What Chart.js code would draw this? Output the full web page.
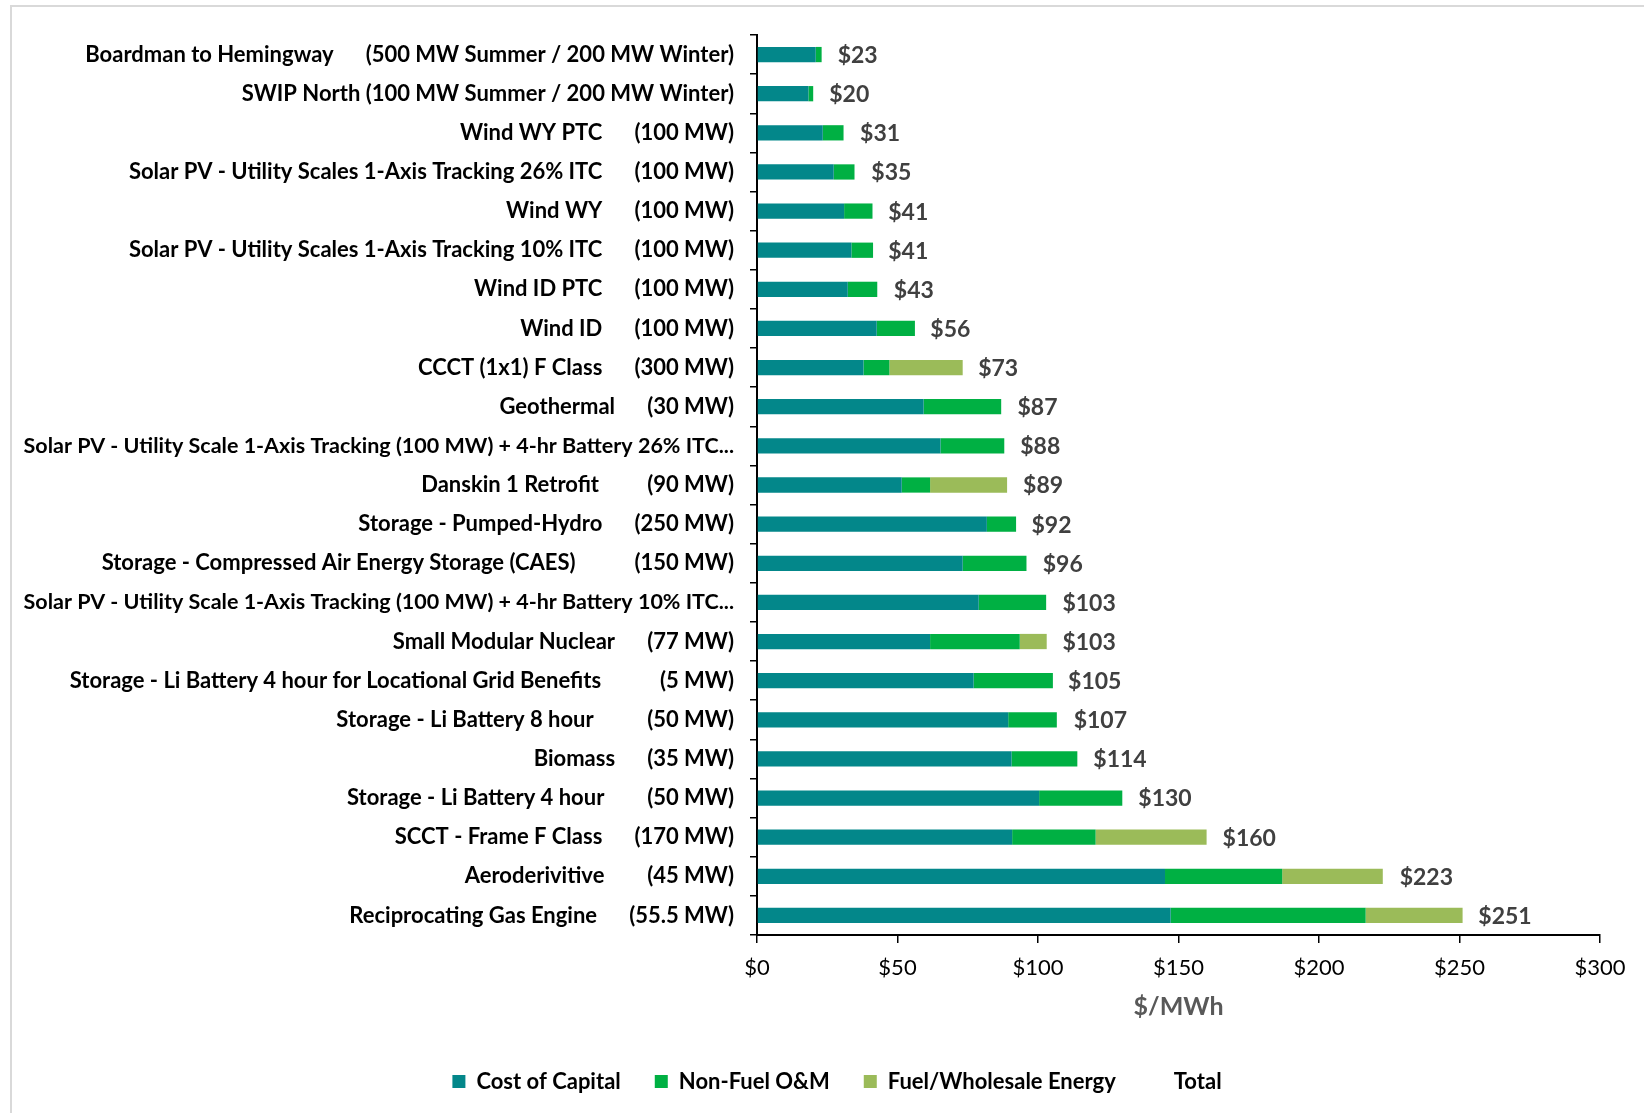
<!DOCTYPE html>
<html>
<head>
<meta charset="utf-8">
<title>Levelized cost by resource</title>
<script src="https://cdn.jsdelivr.net/npm/chart.js@4/dist/chart.umd.min.js"></script>
<style>
  html, body { margin: 0; padding: 0; background: #fff; }
  #wrap { position: relative; width: 1644px; height: 1113px; overflow: hidden; }
  #frame {
    position: absolute; left: 10px; top: 5px; width: 1700px; height: 1200px;
    border: 2px solid #d9d9d9; box-sizing: border-box;
  }
  #chart { position: absolute; left: 0; top: 0; }
</style>
</head>
<body>
<div id="wrap">
  <div id="frame"></div>
  <canvas id="chart" width="1644" height="1113"></canvas>
</div>
<script>
const FONT = "Lato, 'DejaVu Sans Condensed', sans-serif";

// resources, top to bottom
const resources = [
  "Boardman to Hemingway      (500 MW Summer / 200 MW Winter)",
  "SWIP North (100 MW Summer / 200 MW Winter)",
  "Wind WY PTC      (100 MW)",
  "Solar PV - Utility Scales 1-Axis Tracking 26% ITC      (100 MW)",
  "Wind WY      (100 MW)",
  "Solar PV - Utility Scales 1-Axis Tracking 10% ITC      (100 MW)",
  "Wind ID PTC      (100 MW)",
  "Wind ID      (100 MW)",
  "CCCT (1x1) F Class      (300 MW)",
  "Geothermal      (30 MW)",
  "Solar PV - Utility Scale 1-Axis Tracking (100 MW) + 4-hr Battery 26% ITC...",
  "Danskin 1 Retrofit         (90 MW)",
  "Storage - Pumped-Hydro      (250 MW)",
  "Storage - Compressed Air Energy Storage (CAES)           (150 MW)",
  "Solar PV - Utility Scale 1-Axis Tracking (100 MW) + 4-hr Battery 10% ITC...",
  "Small Modular Nuclear      (77 MW)",
  "Storage - Li Battery 4 hour for Locational Grid Benefits           (5 MW)",
  "Storage - Li Battery 8 hour          (50 MW)",
  "Biomass      (35 MW)",
  "Storage - Li Battery 4 hour        (50 MW)",
  "SCCT - Frame F Class      (170 MW)",
  "Aeroderivitive        (45 MW)",
  "Reciprocating Gas Engine      (55.5 MW)"
];

// $/MWh components
const costOfCapital = [20.9, 18.3, 23.4, 27.3, 31.0, 33.6, 32.3, 42.6, 37.9, 59.3, 65.3, 51.5,
  81.8, 73.2, 78.9, 61.6, 77.1, 89.4, 90.6, 100.4, 90.8, 145.2, 147.2];
const nonFuelOM = [2.1, 1.7, 7.4, 7.4, 10.1, 7.7, 10.5, 13.6, 9.2, 27.6, 22.7, 10.1,
  10.4, 22.7, 24.0, 31.9, 28.2, 17.3, 23.4, 29.6, 29.7, 41.7, 69.4];
const fuelEnergy = [null, null, null, null, null, null, null, null, 26.1, null, null, 27.4,
  null, null, null, 9.6, null, null, null, null, 39.5, 35.8, 34.5];
const totals = [23, 20, 31, 35, 41, 41, 43, 56, 73, 87, 88, 89,
  92, 96, 103, 103, 105, 107, 114, 130, 160, 223, 251];

const xTicks = [0, 50, 100, 150, 200, 250, 300];

// writes "$NN" just past the end of each (invisible) total bar
const totalLabels = {
  id: 'totalLabels',
  afterDatasetsDraw(chart) {
    const meta = chart.getDatasetMeta(3);
    const ctx = chart.ctx;
    ctx.save();
    ctx.font = 'bold 23px ' + FONT;
    ctx.fillStyle = '#404040';
    ctx.textAlign = 'left';
    ctx.textBaseline = 'middle';
    meta.data.forEach((bar, i) => {
      ctx.fillText('$' + Math.round(totals[i]), bar.x + 16, bar.y + 1);
    });
    ctx.restore();
  }
};

// legend row sits a bit right of the canvas centre
const legendNudge = {
  id: 'legendNudge',
  afterLayout(chart) {
    chart.legend.left += 31;
    chart.legend.right += 31;
  }
};

const ctx = document.getElementById('chart').getContext('2d');
new Chart(ctx, {
  type: 'bar',
  data: {
    labels: resources,
    datasets: [
      { label: 'Cost of Capital', data: costOfCapital, backgroundColor: '#03878a', borderWidth: 0 },
      { label: 'Non-Fuel O&M', data: nonFuelOM, backgroundColor: '#00b043', borderWidth: 0 },
      { label: 'Fuel/Wholesale Energy', data: fuelEnergy, backgroundColor: '#9bbb59', borderWidth: 0 },
      {
        label: 'Total', data: totals, xAxisID: 'x2', grouped: false,
        backgroundColor: 'rgba(0,0,0,0)', borderWidth: 0
      }
    ]
  },
  options: {
    indexAxis: 'y',
    responsive: false,
    animation: false,
    barPercentage: 0.39,
    categoryPercentage: 1,
    layout: { padding: { top: 35, left: 12, right: 44, bottom: 10.5 } },
    plugins: {
      tooltip: { enabled: false },
      legend: {
        position: 'bottom',
        labels: {
          boxWidth: 13,
          boxHeight: 13,
          padding: 34,
          color: '#000',
          font: { family: FONT, size: 22, weight: 'bold' }
        }
      }
    },
    scales: {
      x: {
        stacked: true,
        min: 0,
        max: 300,
        afterBuildTicks: (scale) => { scale.ticks = xTicks.map(v => ({ value: v })); },
        afterFit: (scale) => { scale.height = 101.5; },
        ticks: {
          callback: (v) => '$' + v,
          color: '#000',
          padding: 12,
          font: { family: FONT, size: 22 }
        },
        grid: { drawOnChartArea: false, drawTicks: true, tickLength: 8, color: '#000', lineWidth: 1.5 },
        border: { color: '#000', width: 2 },
        title: {
          display: true,
          text: '$/MWh',
          color: '#595959',
          font: { family: FONT, size: 25, weight: 'bold' },
          padding: { top: 4, bottom: 15 }
        }
      },
      x2: {
        type: 'linear',
        display: false,
        min: 0,
        max: 300,
        stacked: false
      },
      y: {
        stacked: true,
        afterFit: (scale) => { scale.width = 757 - 12; },
        ticks: {
          autoSkip: false,
          color: '#000',
          padding: 16,
          // the two long, cut-off solar + battery names run a little tighter
          font: (c) => ({
            family: FONT,
            size: resources[c.index] && resources[c.index].endsWith('...') ? 21.5 : 22,
            weight: 'bold'
          })
        },
        grid: { offset: true, drawOnChartArea: false, drawTicks: true, tickLength: 7, color: '#000', lineWidth: 1.5 },
        border: { color: '#000', width: 2 }
      }
    }
  },
  plugins: [totalLabels, legendNudge]
});
</script>
</body>
</html>
